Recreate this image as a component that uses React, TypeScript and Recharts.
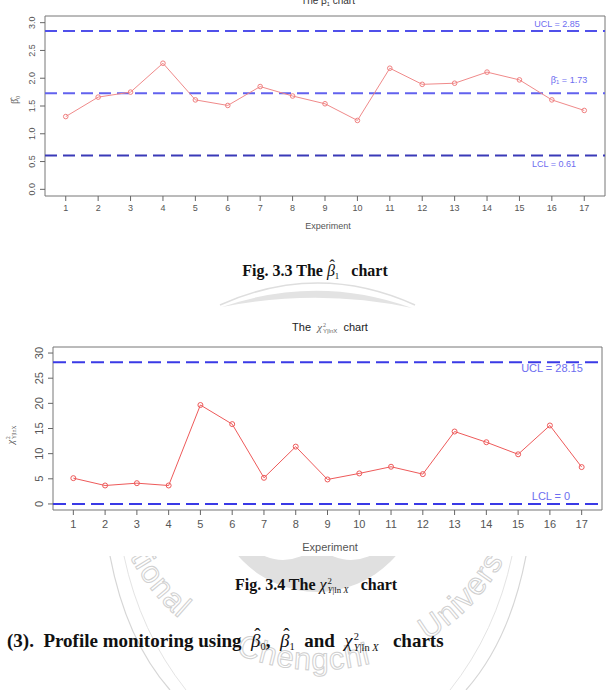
import React from "react";
import { LineChart, Line, XAxis, YAxis, ReferenceLine, ReferenceArea } from "recharts";

// experiment numbers (x axis)
const experiments = [1, 2, 3, 4, 5, 6, 7, 8, 9, 10, 11, 12, 13, 14, 15, 16, 17];

// beta1 chart
const beta1Values = [1.31, 1.66, 1.75, 2.27, 1.61, 1.51, 1.85, 1.68, 1.54, 1.24, 2.18, 1.89, 1.91, 2.11, 1.97, 1.61, 1.42];
const beta1Ticks = [0, 0.5, 1, 1.5, 2, 2.5, 3];
const beta1Ucl = 2.85;
const beta1Cl = 1.73;
const beta1Lcl = 0.61;

// chi-square chart
const chiValues = [5.13, 3.67, 4.13, 3.67, 19.67, 15.87, 5.2, 11.4, 4.87, 6.07, 7.4, 5.93, 14.4, 12.27, 9.87, 15.6, 7.33];
const chiTicks = [0, 5, 10, 15, 20, 25, 30];
const chiUcl = 28.15;
const chiLcl = 0;

// watermark words (seal of the university, only partly visible)
const watermarkWords = ["tional", "Chengchi", "Univers"];

const SANS = "'Liberation Sans', Arial, sans-serif";
const SERIF = "'Liberation Serif', 'Times New Roman', serif";

const beta1Data = experiments.map((e, i) => ({ experiment: e, value: beta1Values[i] }));
const chiData = experiments.map((e, i) => ({ experiment: e, value: chiValues[i] }));

// R pads the range by 4% on each side
function padded(lo: number, hi: number): [number, number] {
  const p = (hi - lo) * 0.04;
  return [lo - p, hi + p];
}

function YTick(props: any) {
  const { x, y, payload, fontSize, digits } = props;
  const px = x - 3;
  return (
    <text
      x={px}
      y={y}
      transform={`rotate(-90 ${px} ${y})`}
      textAnchor="middle"
      fontSize={fontSize}
      fill="#555"
      fontFamily={SANS}
    >
      {Number(payload.value).toFixed(digits)}
    </text>
  );
}

function LimitLabel(props: any) {
  const { viewBox, dx, dy, size, children } = props;
  if (!viewBox) return null;
  return (
    <text
      x={viewBox.x + viewBox.width + dx}
      y={viewBox.y + dy}
      textAnchor="middle"
      dominantBaseline="central"
      fontSize={size}
      fill="#6d6df0"
      fontFamily={SANS}
    >
      {children}
    </text>
  );
}

function At({ x, y, children, style }: { x: number; y: number; children: React.ReactNode; style?: React.CSSProperties }) {
  return (
    <div
      style={{
        position: "absolute",
        left: x,
        top: y,
        transform: "translate(-50%, -50%)",
        whiteSpace: "nowrap",
        lineHeight: 1,
        ...style,
      }}
    >
      {children}
    </div>
  );
}

const sub: React.CSSProperties = { fontSize: "55%", verticalAlign: "-0.35em" };

// chi^2 with stacked super/subscript
function Chi({ font, color, subText }: { font: string; color?: string; subText: React.ReactNode }) {
  return (
    <span style={{ fontFamily: font, fontWeight: "normal", fontStyle: "italic", color }}>
      χ
      <span
        style={{
          display: "inline-flex",
          flexDirection: "column",
          verticalAlign: "middle",
          fontSize: "55%",
          lineHeight: 1.05,
          marginLeft: 1,
        }}
      >
        <span style={{ fontStyle: "normal" }}>2</span>
        <span>{subText}</span>
      </span>
    </span>
  );
}

function BetaHat({ n }: { n: string }) {
  return (
    <span style={{ fontWeight: "normal", fontStyle: "italic" }}>
      <span style={{ position: "relative", display: "inline-block" }}>
        β
        <span style={{ position: "absolute", left: "0.17em", top: "-0.32em", fontStyle: "normal" }}>ˆ</span>
      </span>
      <span style={{ ...sub, fontStyle: "normal" }}>{n}</span>
    </span>
  );
}

function WatermarkTop() {
  return (
    <svg width={612} height={40} style={{ position: "absolute", left: 0, top: 278 }}>
      <g transform="translate(0,-278)">
        <path d="M220,305 Q318,261 415,305" stroke="#dedede" strokeWidth={1.5} fill="none" />
        <path d="M222,307 Q318,274 412,308 Q318,288 222,307 Z" fill="#e3e3e3" />
      </g>
    </svg>
  );
}

function WatermarkBottom() {
  const cx = 318;
  const cy = 457;
  const r = 213;
  const a0 = (225 * Math.PI) / 180;
  const a1 = (-45 * Math.PI) / 180;
  const p0 = [cx + r * Math.cos(a0), cy + r * Math.sin(a0)];
  const p1 = [cx + r * Math.cos(a1), cy + r * Math.sin(a1)];
  const offsets = ["31%", "48.5%", "67%"];
  return (
    <svg width={612} height={134} style={{ position: "absolute", left: 0, top: 556 }}>
      <defs>
        <path id="wm-text" d={`M${p0[0]},${p0[1]} A${r},${r} 0 1 0 ${p1[0]},${p1[1]}`} fill="none" />
      </defs>
      <g transform="translate(0,-556)">
        <path d="M110,556 Q126,640 170,690" stroke="#d6d6d6" strokeWidth={1.2} fill="none" />
        <path d="M124,556 Q140,632 186,690" stroke="#e4e4e4" strokeWidth={1} fill="none" />
        <path d="M526,556 Q510,640 466,690" stroke="#d6d6d6" strokeWidth={1.2} fill="none" />
        <path d="M512,556 Q496,632 450,690" stroke="#e4e4e4" strokeWidth={1} fill="none" />
        <circle cx={317} cy={488} r={104} fill="#e0e0e0" />
        <circle cx={283} cy={515} r={45} fill="#fff" />
        <circle cx={351} cy={515} r={45} fill="#fff" />
        {watermarkWords.map((w, i) => (
          <text key={w} fontSize={31} fontFamily={SANS} fill="#fff" stroke="#d0d0d0" strokeWidth={1} letterSpacing={1}>
            <textPath href="#wm-text" startOffset={offsets[i]} textAnchor="middle">
              {w}
            </textPath>
          </text>
        ))}
      </g>
    </svg>
  );
}

function Beta1Chart() {
  return (
    <div style={{ position: "absolute", left: 0, top: 0, width: 612, height: 236, background: "#fff" }}>
      <LineChart width={612} height={236} data={beta1Data} margin={{ top: 16, right: 7, bottom: 10, left: 0 }}>
        <XAxis
          type="number"
          dataKey="experiment"
          domain={padded(1, 17)}
          ticks={experiments}
          interval={0}
          allowDataOverflow
          axisLine={false}
          tickLine={{ stroke: "#666" }}
          tickSize={5}
          tickMargin={4}
          height={30}
          tick={{ fontSize: 9, fill: "#555", fontFamily: SANS }}
        />
        <YAxis
          type="number"
          domain={padded(0, 3)}
          ticks={beta1Ticks}
          interval={0}
          allowDataOverflow
          axisLine={false}
          tickLine={{ stroke: "#666" }}
          tickSize={5}
          width={45}
          tick={<YTick fontSize={9} digits={1} />}
        />
        <ReferenceArea
          x1={padded(1, 17)[0]}
          x2={padded(1, 17)[1]}
          y1={padded(0, 3)[0]}
          y2={padded(0, 3)[1]}
          fill="none"
          stroke="#777"
          strokeWidth={1}
        />
        <ReferenceLine
          y={beta1Ucl}
          stroke="#5050ea"
          strokeWidth={2}
          strokeDasharray="12 6"
          label={<LimitLabel dx={-48} dy={-7.5} size={9}>UCL = {beta1Ucl.toFixed(2)}</LimitLabel>}
        />
        <ReferenceLine
          y={beta1Cl}
          stroke="#6262ee"
          strokeWidth={2}
          strokeDasharray="12 6"
          label={
            <LimitLabel dx={-36} dy={-13} size={9}>
              β̄<tspan fontSize={6} dy={2}>1</tspan>
              <tspan dy={-2}> = {beta1Cl.toFixed(2)}</tspan>
            </LimitLabel>
          }
        />
        <ReferenceLine
          y={beta1Lcl}
          stroke="#3a3ab8"
          strokeWidth={2}
          strokeDasharray="12 6"
          label={<LimitLabel dx={-51} dy={8.5} size={9}>LCL = {beta1Lcl.toFixed(2)}</LimitLabel>}
        />
        <Line
          type="linear"
          dataKey="value"
          stroke="#f08a8a"
          strokeWidth={1}
          dot={{ r: 2.3, stroke: "#f08080", strokeWidth: 1, fill: "none" }}
          isAnimationActive={false}
        />
      </LineChart>
      <At x={328} y={2} style={{ fontSize: 10, color: "#333", fontFamily: SANS }}>
        The β̂<span style={sub}>1</span> chart
      </At>
      <At x={16} y={100} style={{ fontSize: 10, color: "#555", fontFamily: SERIF, transform: "translate(-50%, -50%) rotate(-90deg)" }}>
        β̂<span style={sub}>0</span>
      </At>
      <At x={328} y={226} style={{ fontSize: 9, color: "#555", fontFamily: SANS }}>
        Experiment
      </At>
    </div>
  );
}

function ChiChart() {
  const blue = "#3a3ae6";
  return (
    <div style={{ position: "absolute", left: 0, top: 318, width: 612, height: 238, background: "#fff" }}>
      <LineChart width={612} height={238} data={chiData} margin={{ top: 29, right: 10, bottom: 10, left: 0 }}>
        <XAxis
          type="number"
          dataKey="experiment"
          domain={padded(1, 17)}
          ticks={experiments}
          interval={0}
          allowDataOverflow
          axisLine={false}
          tickLine={{ stroke: "#666" }}
          tickSize={5}
          tickMargin={5}
          height={36}
          tick={{ fontSize: 11, fill: "#555", fontFamily: SANS }}
        />
        <YAxis
          type="number"
          domain={padded(0, 30)}
          ticks={chiTicks}
          interval={0}
          allowDataOverflow
          axisLine={false}
          tickLine={{ stroke: "#666" }}
          tickSize={5}
          width={53}
          tick={<YTick fontSize={11} digits={0} />}
        />
        <ReferenceArea
          x1={padded(1, 17)[0]}
          x2={padded(1, 17)[1]}
          y1={padded(0, 30)[0]}
          y2={padded(0, 30)[1]}
          fill="none"
          stroke="#777"
          strokeWidth={1}
        />
        <ReferenceLine
          y={chiUcl}
          stroke={blue}
          strokeWidth={2}
          strokeDasharray="13 6"
          label={<LimitLabel dx={-50} dy={6} size={11}>UCL = {chiUcl.toFixed(2)}</LimitLabel>}
        />
        <ReferenceLine
          y={chiLcl}
          stroke={blue}
          strokeWidth={2}
          strokeDasharray="13 6"
          label={<LimitLabel dx={-51} dy={-8} size={11}>LCL = {chiLcl}</LimitLabel>}
        />
        <Line
          type="linear"
          dataKey="value"
          stroke="#ee5a5a"
          strokeWidth={1}
          dot={{ r: 2.5, stroke: "#ee5a5a", strokeWidth: 1, fill: "none" }}
          isAnimationActive={false}
        />
      </LineChart>
      <At x={330} y={10} style={{ fontSize: 11, color: "#222", fontFamily: SANS }}>
        The&nbsp;&nbsp;
        <Chi font={SERIF} color="#666" subText={<span style={{ fontFamily: SANS, fontStyle: "normal" }}>Y|lnX</span>} />
        &nbsp;&nbsp;chart
      </At>
      <At x={12} y={117} style={{ fontSize: 10, color: "#555", fontFamily: SERIF, transform: "translate(-50%, -50%) rotate(-90deg)" }}>
        <Chi font={SERIF} subText={<span style={{ fontStyle: "normal" }}>Y|lnX</span>} />
      </At>
      <At x={330} y={229} style={{ fontSize: 11, color: "#555", fontFamily: SANS }}>
        Experiment
      </At>
    </div>
  );
}

const chiSub = (
  <span>
    Y<span style={{ fontStyle: "normal" }}>|ln</span> X
  </span>
);

export default function App() {
  return (
    <div
      style={{
        position: "absolute",
        left: 0,
        top: 0,
        width: 612,
        height: 690,
        background: "#fff",
        overflow: "hidden",
        fontFamily: SERIF,
      }}
    >
      <WatermarkTop />
      <WatermarkBottom />
      <Beta1Chart />
      <ChiChart />
      <At x={315} y={272} style={{ fontSize: 16, fontWeight: "bold", color: "#111" }}>
        Fig. 3.3 The <BetaHat n="1" />&nbsp;&nbsp; chart
      </At>
      <At x={316} y={586} style={{ fontSize: 16, fontWeight: "bold", color: "#111" }}>
        Fig. 3.4 The <Chi font={SERIF} subText={chiSub} />&nbsp;&nbsp; chart
      </At>
      <div
        style={{
          position: "absolute",
          left: 7,
          top: 642,
          transform: "translateY(-50%)",
          whiteSpace: "nowrap",
          lineHeight: 1,
          fontSize: 19,
          fontWeight: "bold",
          color: "#111",
        }}
      >
        (3).&nbsp; Profile monitoring using &nbsp;<BetaHat n="0" />,&nbsp; <BetaHat n="1" />&nbsp; and &nbsp;
        <Chi font={SERIF} subText={chiSub} />&nbsp;&nbsp; charts
      </div>
    </div>
  );
}
